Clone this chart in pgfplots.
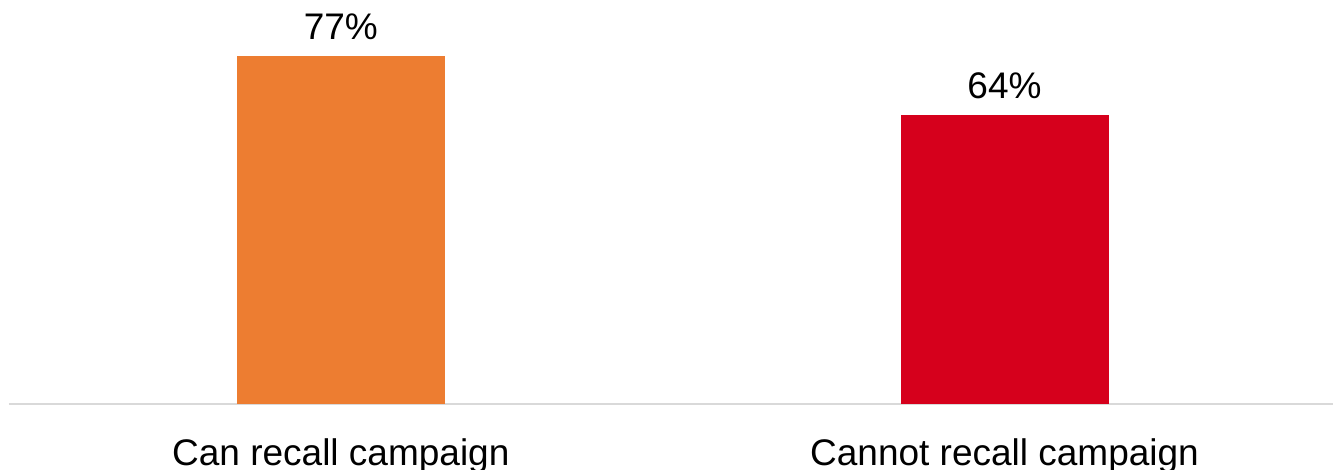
\documentclass[border=0pt]{standalone}
\usepackage{pgfplots}
\pgfplotsset{compat=1.18}
\usepackage{fontspec}
\setmainfont{Liberation Sans}
\definecolor{barorange}{RGB}{237,125,49}
\definecolor{barred}{RGB}{214,0,28}
\definecolor{axisgray}{RGB}{217,217,217}
\begin{document}
\begin{tikzpicture}
  \begin{axis}[
      scale only axis,
      width=662pt, height=202pt,
      ybar, bar width=104pt, bar shift=0pt,
      xmin=-0.5, xmax=1.495,
      ymin=0, ymax=89.4,
      axis x line*=bottom,
      axis y line=none,
      axis line style={draw=axisgray, line width=1.25pt, -},
      xtick={0,1},
      xticklabels={Can recall campaign, Cannot recall campaign},
      major tick length=0pt,
      xticklabel style={anchor=north, yshift=-17pt, inner sep=0pt,
        font=\fontsize{18.5}{22}\selectfont},
      /pgf/number format/assume math mode=true,
      point meta=y,
      nodes near coords={\pgfmathprintnumber{\pgfplotspointmeta}\%},
      every node near coord/.append style={anchor=south, yshift=8pt,
        inner sep=0pt, font=\fontsize{18.5}{22}\selectfont, black},
    ]
    \addplot[fill=barorange, draw=none] coordinates {(0,77)};
    \addplot[fill=barred, draw=none] coordinates {(1,64)};
  \end{axis}
  \pgfresetboundingbox
  \path (-4.5pt,-33pt) rectangle (662pt,202pt);
\end{tikzpicture}
\end{document}
